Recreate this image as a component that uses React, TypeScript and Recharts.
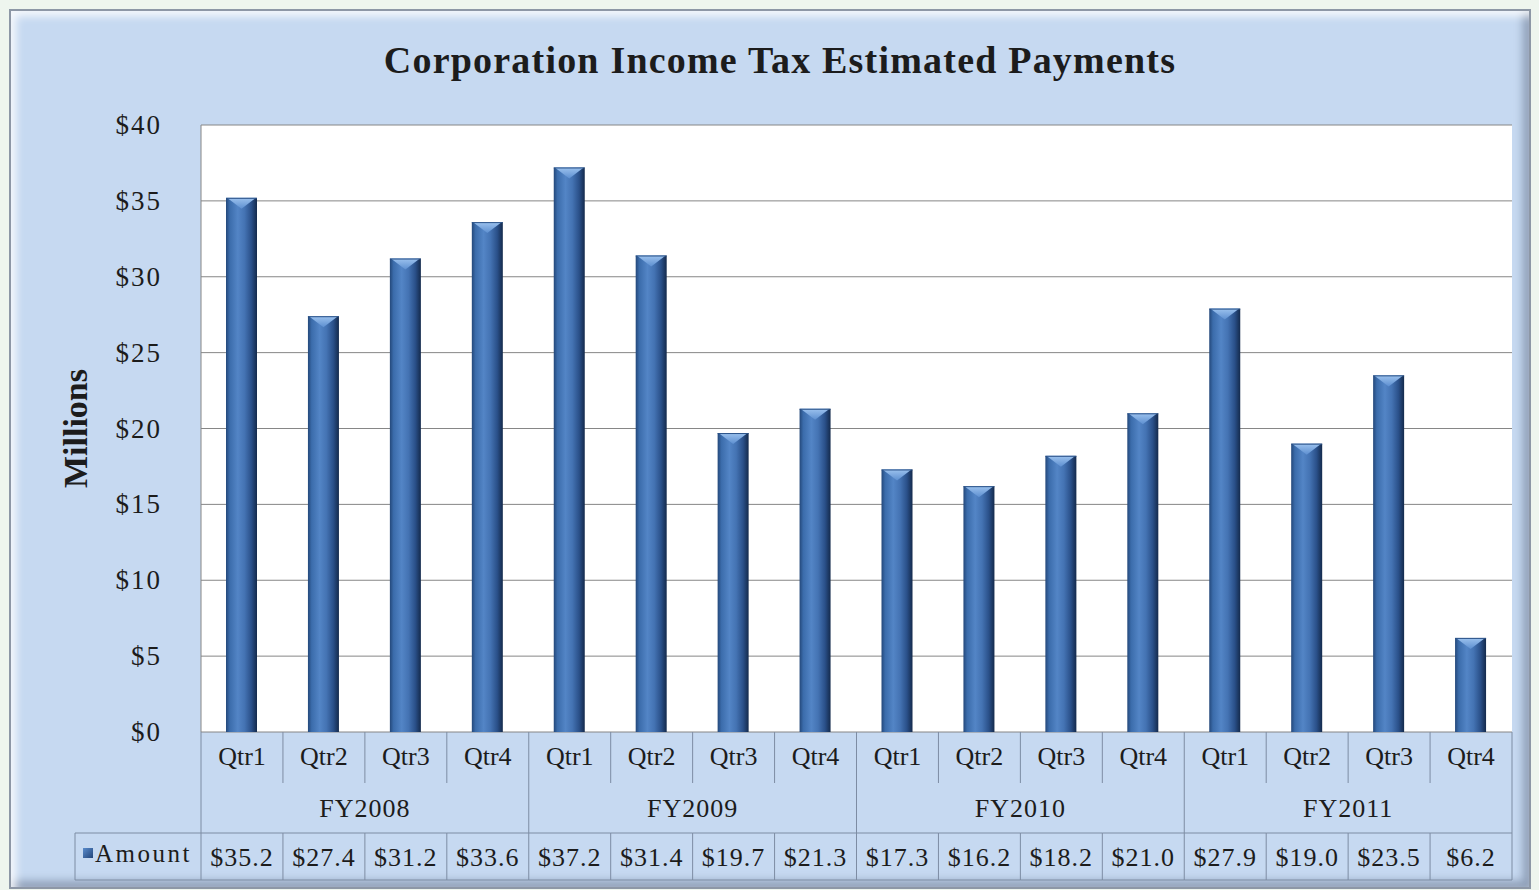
import { BarChart, Bar, XAxis, YAxis, CartesianGrid } from 'recharts';

// values ($ millions)
const fiscalYears = ['FY2008', 'FY2009', 'FY2010', 'FY2011'];
const quarters = ['Qtr1', 'Qtr2', 'Qtr3', 'Qtr4'];
const amounts = [
  35.2, 27.4, 31.2, 33.6,
  37.2, 31.4, 19.7, 21.3,
  17.3, 16.2, 18.2, 21.0,
  27.9, 19.0, 23.5, 6.2,
];
const yTicks = [0, 5, 10, 15, 20, 25, 30, 35, 40];

const data = amounts.map((amount, i) => {
  const fy = fiscalYears[Math.floor(i / quarters.length)];
  const qtr = quarters[i % quarters.length];
  return { key: `${fy}-${qtr}`, fy, qtr, amount };
});

const W = 1539;
const H = 890;
const QTR_H = 51;
const FY_H = 50;
const AMT_H = 47;
const LEGEND_W = 126;

const FONT = "'Liberation Serif', 'Times New Roman', serif";
const TEXT = '#1c1c1c';
const CELL_LINE = '#7d8ca3';
const GRID = '#868686';

const halfBand = (payload: any) =>
  payload && payload.offset ? payload.offset : (W - 201 - 27) / data.length / 2;

function QtrTick(props: any) {
  const { x, y, payload, index } = props;
  const half = halfBand(payload);
  const groupEnd = index % quarters.length === quarters.length - 1;
  return (
    <g>
      <text x={x} y={y + 33} textAnchor="middle" fontFamily={FONT} fontSize={26} fill={TEXT}>
        {data[index]?.qtr ?? payload.value}
      </text>
      <line x1={x + half} x2={x + half} y1={y} y2={y + (groupEnd ? QTR_H + FY_H : QTR_H)} stroke={CELL_LINE} />
      {index === 0 && <line x1={x - half} x2={x - half} y1={y} y2={y + QTR_H + FY_H} stroke={CELL_LINE} />}
    </g>
  );
}

function FyTick(props: any) {
  const { x, y, payload, index } = props;
  const half = halfBand(payload);
  if (index % quarters.length !== 1) return <g />;
  return (
    <text x={x + half} y={y + 34} textAnchor="middle" fontFamily={FONT} fontSize={26} letterSpacing={1} fill={TEXT}>
      {data[index].fy}
    </text>
  );
}

function AmountTick(props: any) {
  const { x, y, payload, index } = props;
  const half = halfBand(payload);
  const left = x - half;
  return (
    <g>
      <line x1={left} x2={x + half} y1={y} y2={y} stroke={CELL_LINE} />
      <line x1={left} x2={x + half} y1={y + AMT_H} y2={y + AMT_H} stroke={CELL_LINE} />
      <line x1={x + half} x2={x + half} y1={y} y2={y + AMT_H} stroke={CELL_LINE} />
      <text x={x} y={y + 33} textAnchor="middle" fontFamily={FONT} fontSize={26} letterSpacing={1} fill={TEXT}>
        {`$${data[index].amount.toFixed(1)}`}
      </text>
      {index === 0 && (
        <g>
          <line x1={left - LEGEND_W} x2={left} y1={y} y2={y} stroke={CELL_LINE} />
          <line x1={left - LEGEND_W} x2={left} y1={y + AMT_H} y2={y + AMT_H} stroke={CELL_LINE} />
          <line x1={left - LEGEND_W} x2={left - LEGEND_W} y1={y} y2={y + AMT_H} stroke={CELL_LINE} />
          <line x1={left} x2={left} y1={y} y2={y + AMT_H} stroke={CELL_LINE} />
          <rect x={left - LEGEND_W + 8} y={y + 15} width={10} height={10} fill="url(#legendGrad)" />
          <text x={left - LEGEND_W + 20} y={y + 29} fontFamily={FONT} fontSize={25} letterSpacing={2.5} fill={TEXT}>
            Amount
          </text>
        </g>
      )}
    </g>
  );
}

function YTick(props: any) {
  const { x, y, payload } = props;
  return (
    <text x={x} y={y + 9} textAnchor="end" fontFamily={FONT} fontSize={27} letterSpacing={2} fill={TEXT}>
      {`$${payload.value}`}
    </text>
  );
}

function BevelBar(props: any) {
  const { x, y, width, height } = props;
  if (!height || height <= 0) return null;
  const bevel = Math.min(11, height / 2);
  return (
    <g>
      <rect x={x} y={y} width={width} height={height} fill="url(#barGrad)" />
      <polygon
        points={`${x + 1},${y} ${x + width - 1},${y} ${x + width / 2},${y + bevel}`}
        fill="url(#topGrad)"
      />
      <line x1={x} x2={x + width} y1={y + 0.5} y2={y + 0.5} stroke="#2b5288" />
    </g>
  );
}

function MillionsLabel(props: any) {
  const vb = props.viewBox || {};
  const cx = 75;
  const cy = vb.y + vb.height / 2;
  return (
    <text
      x={cx}
      y={cy}
      transform={`rotate(-90, ${cx}, ${cy})`}
      textAnchor="middle"
      dominantBaseline="central"
      fontFamily={FONT}
      fontWeight="bold"
      fontSize={34}
      fill={TEXT}
    >
      Millions
    </text>
  );
}

export default function App() {
  return (
    <div style={{ position: 'absolute', left: 0, top: 0, width: W, height: H, background: '#eef5ee', overflow: 'hidden' }}>
      <div
        style={{
          position: 'absolute',
          left: 9,
          top: 9,
          width: 1522,
          height: 880,
          boxSizing: 'border-box',
          border: '2px solid #8d97a6',
          background: '#c6d9f1',
          boxShadow: 'inset 5px 5px 8px rgba(255,255,255,0.85), inset -6px -6px 8px rgba(95,110,135,0.55)',
        }}
      />
      <div
        style={{
          position: 'absolute',
          left: 280,
          top: 38,
          width: 1000,
          textAlign: 'center',
          fontFamily: FONT,
          fontWeight: 'bold',
          fontSize: 38,
          letterSpacing: 1.2,
          color: TEXT,
        }}
      >
        Corporation Income Tax Estimated Payments
      </div>
      <div style={{ position: 'absolute', left: 0, top: 0 }}>
        <BarChart
          width={W}
          height={H}
          data={data}
          margin={{ top: 125, right: 27, left: 81, bottom: 10 }}
        >
          <defs>
            <linearGradient id="barGrad" x1="0" y1="0" x2="1" y2="0">
              <stop offset="0%" stopColor="#24487a" />
              <stop offset="12%" stopColor="#3b6cab" />
              <stop offset="38%" stopColor="#5385c6" />
              <stop offset="60%" stopColor="#4473b3" />
              <stop offset="82%" stopColor="#2a5089" />
              <stop offset="100%" stopColor="#142a4c" />
            </linearGradient>
            <linearGradient id="topGrad" x1="0" y1="0" x2="0" y2="1">
              <stop offset="0%" stopColor="#9cc2ee" />
              <stop offset="100%" stopColor="#5d8fd0" />
            </linearGradient>
            <linearGradient id="legendGrad" x1="0" y1="0" x2="1" y2="1">
              <stop offset="0%" stopColor="#5a8ccc" />
              <stop offset="100%" stopColor="#22457a" />
            </linearGradient>
          </defs>
          <CartesianGrid vertical={false} stroke={GRID} fill="#ffffff" />
          {/* bottom axes stack by id: row1 (quarters) next to the plot, row3 (amounts) outermost */}
          <XAxis
            xAxisId="row1"
            dataKey="key"
            height={QTR_H}
            interval={0}
            axisLine={false}
            tickLine={false}
            tickSize={0}
            tickMargin={0}
            tick={<QtrTick />}
          />
          <XAxis
            xAxisId="row2"
            dataKey="key"
            height={FY_H}
            interval={0}
            axisLine={false}
            tickLine={false}
            tickSize={0}
            tickMargin={0}
            tick={<FyTick />}
          />
          <XAxis
            xAxisId="row3"
            dataKey="key"
            height={AMT_H}
            interval={0}
            axisLine={false}
            tickLine={false}
            tickSize={0}
            tickMargin={0}
            tick={<AmountTick />}
          />
          <YAxis
            width={120}
            domain={[0, 40]}
            ticks={yTicks}
            interval={0}
            axisLine={{ stroke: GRID }}
            tickLine={false}
            tickSize={0}
            tickMargin={39}
            tick={<YTick />}
            label={<MillionsLabel />}
          />
          <YAxis yAxisId="right" orientation="right" width={0} tick={false} tickLine={false} axisLine={{ stroke: GRID }} domain={[0, 40]} />
          <Bar
            xAxisId="row1"
            dataKey="amount"
            barSize={31}
            shape={<BevelBar />}
            isAnimationActive={false}
          />
        </BarChart>
      </div>
    </div>
  );
}
